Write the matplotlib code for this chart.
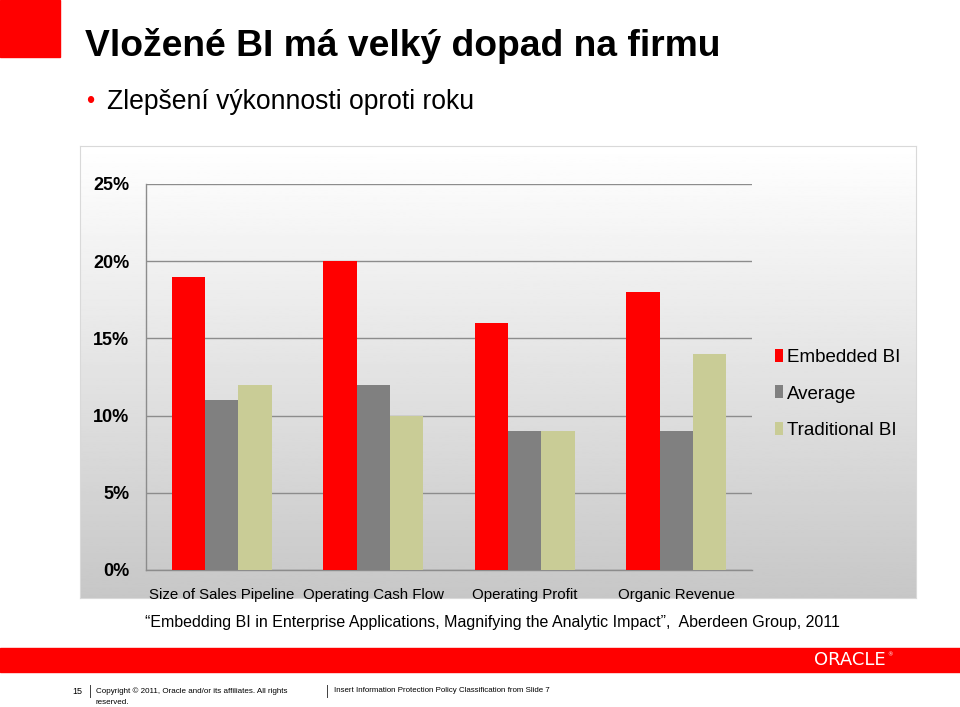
import numpy as np
import matplotlib
matplotlib.use('Agg')
import matplotlib.pyplot as plt
from matplotlib.patches import Rectangle
from matplotlib.ticker import FuncFormatter

# chart data (percent)
categories = ['Size of Sales Pipeline', 'Operating Cash Flow', 'Operating Profit', 'Organic Revenue']
embedded_bi = [19, 20, 16, 18]
average = [11, 12, 9, 9]
traditional_bi = [12, 10, 9, 14]
series_names = ['Embedded BI', 'Average', 'Traditional BI']
series_colors = ['#FF0000', '#808080', '#C9CC96']

W, H = 960, 707
sans = ['Liberation Sans', 'DejaVu Sans']

fig = plt.figure(figsize=(W / 100, H / 100), dpi=100)
fig.patch.set_facecolor('white')

def box(x0, y0, x1, y1):
    # pixel box (top-left origin) -> figure fraction rect
    return [x0 / W, 1 - y1 / H, (x1 - x0) / W, (y1 - y0) / H]

def fx(x):
    return x / W

def fy(y):
    return 1 - y / H

# red square top-left
fig.patches.append(Rectangle((0, fy(57)), fx(60), 57 / H, transform=fig.transFigure,
                             color='#FF0000', zorder=1))

# title and bullet
fig.text(fx(85), fy(46), 'Vložené BI má velký dopad na firmu', fontsize=26.8, fontweight='bold',
         family=sans, va='center', ha='left')
fig.text(fx(86), fy(102), '•', fontsize=17, color='#FF0000', family=sans, va='center')
fig.text(fx(107), fy(102), 'Zlepšení výkonnosti oproti roku', fontsize=19.1, family=sans,
         va='center', ha='left')

# chart background with gradient
bg = fig.add_axes(box(80, 146, 916, 598), zorder=0)
grad = np.linspace(1.0, 0.78, 256).reshape(-1, 1)
bg.imshow(grad, aspect='auto', cmap='gray', vmin=0, vmax=1, extent=[0, 1, 0, 1])
bg.set_xticks([])
bg.set_yticks([])
for s in bg.spines.values():
    s.set_color('#D9D9D9')

# main chart
ax = fig.add_axes(box(146, 184, 752, 570), zorder=1)
ax.patch.set_alpha(0)
x = np.arange(len(categories))
w = 0.22
all_series = [embedded_bi, average, traditional_bi]
for i, (vals, name, col) in enumerate(zip(all_series, series_names, series_colors)):
    ax.bar(x + (i - 1) * w, vals, w, color=col, label=name, zorder=3)

ax.set_xlim(-0.5, len(categories) - 0.5)
ax.set_ylim(0, 25)
ax.set_yticks([0, 5, 10, 15, 20, 25])
ax.yaxis.set_major_formatter(FuncFormatter(lambda v, p: '%d%%' % v))
ax.grid(axis='y', color='#8C8C8C', linewidth=1.0, zorder=0)
ax.set_axisbelow(True)
ax.tick_params(axis='both', length=0)
ax.tick_params(axis='y', pad=12)
ax.tick_params(axis='x', pad=13)
ax.set_xticks(x)
ax.set_xticklabels(categories)
for lab in ax.get_yticklabels():
    lab.set_family(sans)
    lab.set_fontsize(13)
    lab.set_fontweight('bold')
for lab in ax.get_xticklabels():
    lab.set_family(sans)
    lab.set_fontsize(10.8)
for side in ['top', 'right']:
    ax.spines[side].set_visible(False)
for side in ['left', 'bottom']:
    ax.spines[side].set_color('#8C8C8C')
    ax.spines[side].set_linewidth(1.0)

fs_leg = 13.5
px = fs_leg * 100 / 72
leg = ax.legend(loc='center left', bbox_to_anchor=((775 - 146) / 606, (570 - 394) / 386),
                frameon=False, prop={'family': sans, 'size': fs_leg},
                borderpad=0, borderaxespad=0,
                handlelength=8 / px, handleheight=13 / px, handletextpad=4 / px,
                labelspacing=(38.5 - px) / px)

# citation
fig.text(fx(492), fy(623), '\u201cEmbedding BI in Enterprise Applications, Magnifying the Analytic Impact\u201d,  Aberdeen Group, 2011',
         fontsize=11.5, family=sans, ha='center', va='center')

# red band with logo
fig.patches.append(Rectangle((0, fy(672)), 1, 24 / H, transform=fig.transFigure,
                             color='#FF0000', zorder=1))
fig.text(fx(850), fy(660), 'ORACLE', fontsize=13, color='white', family=['DejaVu Sans'],
         ha='center', va='center', zorder=2)
fig.text(fx(887), fy(655), '®', fontsize=4, color='white', family=['DejaVu Sans'],
         ha='left', va='center', zorder=2)

# footer
fig.text(fx(82), fy(691), '15', fontsize=6.5, family=sans, ha='right', va='center')
fig.add_artist(plt.Line2D([fx(90), fx(90)], [fy(685), fy(697)], color='#404040', lw=0.7))
fig.text(fx(96), fy(691), 'Copyright © 2011, Oracle and/or its affiliates. All rights', fontsize=5.8,
         family=sans, ha='left', va='center')
fig.text(fx(96), fy(702), 'reserved.', fontsize=5.8, family=sans, ha='left', va='center')
fig.add_artist(plt.Line2D([fx(327), fx(327)], [fy(685), fy(697)], color='#404040', lw=0.7))
fig.text(fx(334), fy(691), 'Insert Information Protection Policy Classification from Slide 7',
         fontsize=5.7, family=sans, ha='left', va='center')

fig.savefig('out.png', dpi=100)
